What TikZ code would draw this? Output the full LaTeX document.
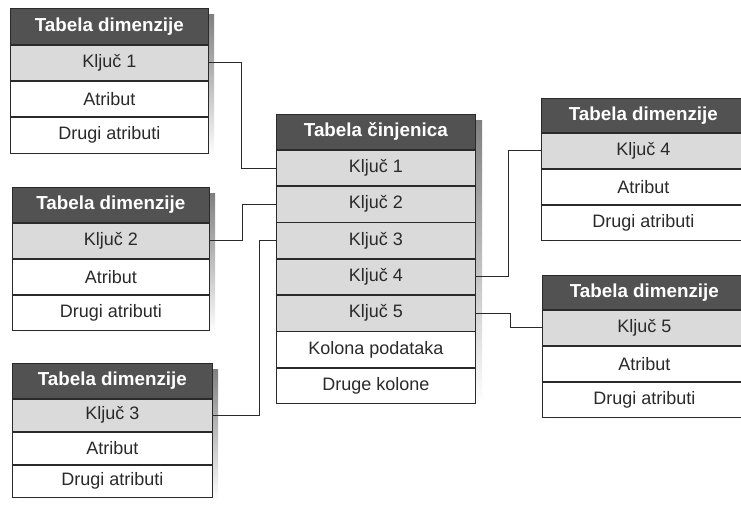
\documentclass[tikz,border=0pt]{standalone}
\usepackage{fontspec}
\setmainfont{Liberation Sans}
\definecolor{hdr}{HTML}{525252}
\definecolor{keyrow}{HTML}{DADADA}
\definecolor{shade}{HTML}{999999}
\definecolor{ink}{HTML}{2A2A2A}
\tikzset{
  cell/.style={draw=ink, line width=0.7pt, inner sep=0pt, anchor=north west,
    font=\fontsize{18}{20}\selectfont, text=ink},
  hdrcell/.style={cell, fill=hdr, text=white, font=\fontsize{18.8}{20}\selectfont\bfseries},
  keycell/.style={cell, fill=keyrow},
  plaincell/.style={cell, fill=white},
  link/.style={draw=ink, line width=0.7pt},
}
% dimension table: name, left x, top y, width, header height, row height, key label
\newcommand\dimtab[7]{%
  \fill[shade] ({#2+6},{#3+6}) rectangle ({#2+#4+6},{#3+#5+3*#6+6});
  \node[hdrcell, minimum width=#4pt, minimum height=#5pt] (#1-h) at (#2,#3) {Tabela dimenzije};
  \node[keycell, minimum width=#4pt, minimum height=#6pt] (#1-k) at (#1-h.south west) {#7};
  \node[plaincell, minimum width=#4pt, minimum height=#6pt] (#1-a) at (#1-k.south west) {Atribut};
  \node[plaincell, minimum width=#4pt, minimum height=#6pt] (#1-o) at (#1-a.south west) {Drugi atributi};
}
\begin{document}
\begin{tikzpicture}[x=1pt, y=-1pt]
  \useasboundingbox (0,0) rectangle (741,507);
  \clip (0,0) rectangle (741,507);
  \fill[white] (0,0) rectangle (741,507);

  % dimension tables
  \dimtab{d1}{10}{8}{198}{36}{35.5}{Ključ 1}
  \dimtab{d2}{12}{187}{197}{35}{35.3}{Ključ 2}
  \dimtab{d3}{12}{363}{200}{35}{32.3}{Ključ 3}
  \dimtab{d4}{541}{98}{204}{34}{35.3}{Ključ 4}
  \dimtab{d5}{542}{275}{204}{34}{35.3}{Ključ 5}

  % fact table
  \fill[shade] (283,120) rectangle (482,404);
  \node[hdrcell, minimum width=199pt, minimum height=35pt] (f-h) at (276,114) {Tabela činjenica};
  \node[keycell, minimum width=199pt, minimum height=35.6pt] (f-1) at (f-h.south west) {Ključ 1};
  \node[keycell, minimum width=199pt, minimum height=35.6pt] (f-2) at (f-1.south west) {Ključ 2};
  \node[keycell, minimum width=199pt, minimum height=35.6pt] (f-3) at (f-2.south west) {Ključ 3};
  \node[keycell, minimum width=199pt, minimum height=35.6pt] (f-4) at (f-3.south west) {Ključ 4};
  \node[keycell, minimum width=199pt, minimum height=35.6pt] (f-5) at (f-4.south west) {Ključ 5};
  \node[plaincell, minimum width=199pt, minimum height=35.6pt] (f-d) at (f-5.south west) {Kolona podataka};
  \node[plaincell, minimum width=199pt, minimum height=35.6pt] (f-o) at (f-d.south west) {Druge kolone};

  % key links
  \draw[link] (d1-k.east) -- ++(33,0) |- (f-1.west);
  \draw[link] (d2-k.east) -- ++(33,0) |- (f-2.west);
  \draw[link] (d3-k.east) -- ++(47,0) |- (f-3.west);
  \draw[link] (f-4.east) -- ++(33,0) |- (d4-k.west);
  \draw[link] (f-5.east) -- ++(35,0) |- (d5-k.west);
\end{tikzpicture}
\end{document}
